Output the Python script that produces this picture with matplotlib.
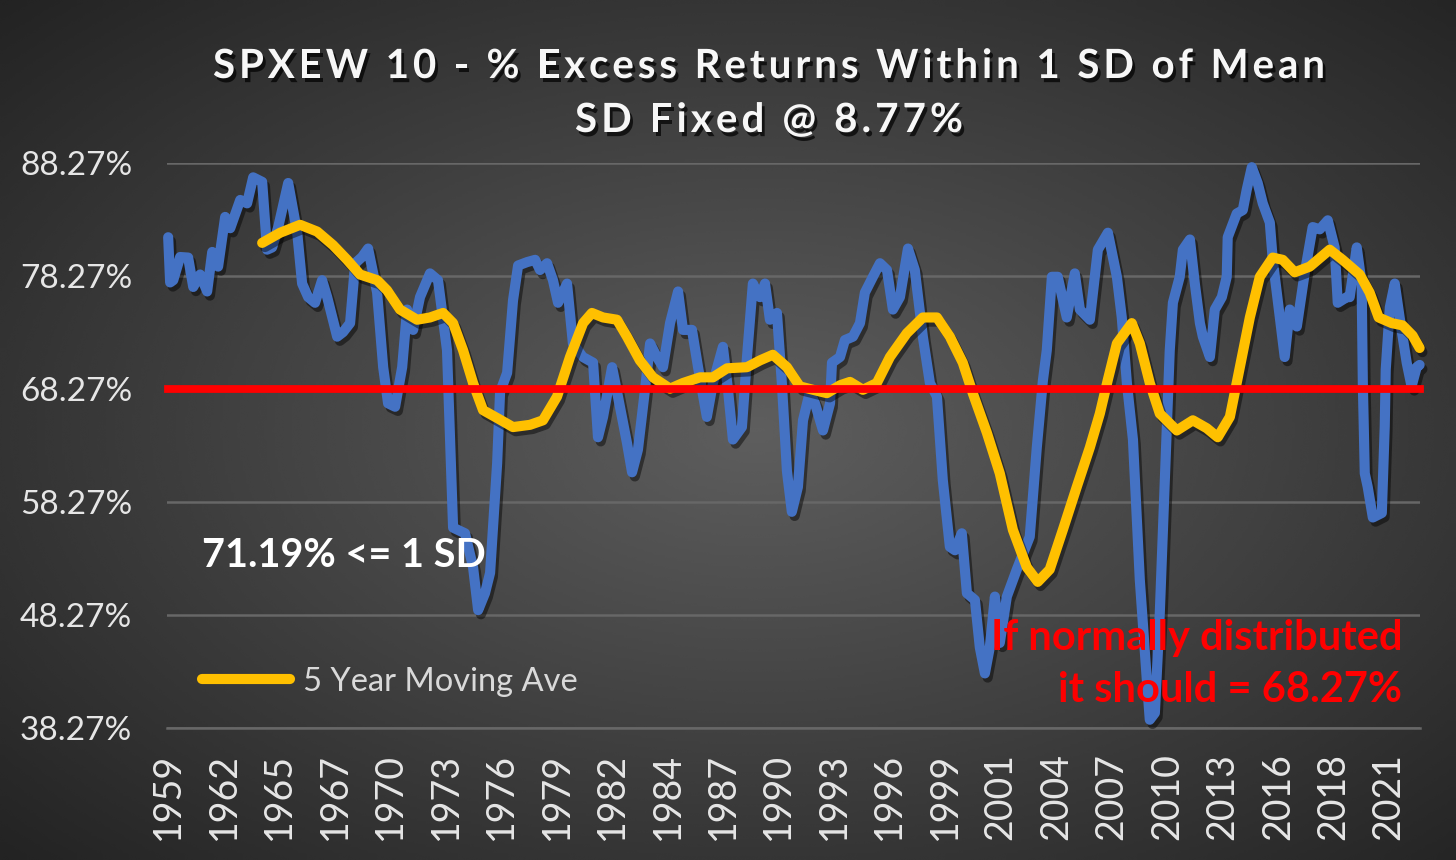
import numpy as np
import matplotlib
matplotlib.use("Agg")
import matplotlib.pyplot as plt
import matplotlib.patheffects as pe
from matplotlib.font_manager import FontProperties
from matplotlib.textpath import TextToPath

plt.rcParams['font.family'] = ['Lato', 'DejaVu Sans']

# 10yr excess returns - % within 1 SD
blue_years = [1959.42, 1959.52, 1959.68, 1960.03, 1960.44, 1960.70, 1961.05, 1961.41, 1961.67, 1961.97,
              1962.33, 1962.59, 1963.10, 1963.45, 1963.76, 1964.22, 1964.47, 1964.73, 1965.04, 1965.55,
              1966.01, 1966.26, 1966.57, 1966.92, 1967.28, 1967.54, 1968.05, 1968.35, 1968.71, 1968.97,
              1969.32, 1969.63, 1970.09, 1970.40, 1970.65, 1971.01, 1971.37, 1971.62, 1971.93, 1972.28,
              1972.79, 1973.20, 1973.66, 1973.97, 1974.58, 1974.99, 1975.25, 1975.60, 1975.86, 1976.22,
              1976.37, 1976.73, 1977.03, 1977.29, 1977.75, 1978.16, 1978.41, 1978.77, 1979.07, 1979.33,
              1979.79, 1980.09, 1980.60, 1981.12, 1981.37, 1981.63, 1982.09, 1982.39, 1982.85, 1983.11,
              1983.41, 1983.77, 1984.03, 1984.38, 1984.69, 1985.05, 1985.46, 1985.71, 1986.17, 1986.48,
              1986.93, 1987.24, 1987.75, 1988.01, 1988.26, 1988.72, 1988.98, 1989.28, 1989.64, 1989.90,
              1990.15, 1990.51, 1990.76, 1991.02, 1991.27, 1991.58, 1991.84, 1992.19, 1992.45, 1992.86,
              1993.22, 1993.32, 1993.73, 1993.98, 1994.39, 1994.75, 1995.00, 1995.41, 1995.77, 1996.13,
              1996.43, 1996.79, 1997.20, 1997.55, 1997.96, 1998.32, 1998.68, 1998.98, 1999.34, 1999.60,
              1999.95, 2000.21, 2000.62, 2000.87, 2001.13, 2001.38, 2001.64, 2001.89, 2002.25, 2002.76,
              2003.42, 2003.78, 2004.09, 2004.29, 2004.55, 2004.85, 2005.31, 2005.72, 2005.98, 2006.49,
              2006.90, 2007.41, 2007.87, 2008.12, 2008.38, 2008.69, 2009.04, 2009.40, 2009.55, 2009.81,
              2010.06, 2010.32, 2010.57, 2010.73, 2011.08, 2011.24, 2011.60, 2011.85, 2012.11, 2012.26,
              2012.62, 2012.87, 2013.23, 2013.48, 2013.53, 2013.99, 2014.30, 2014.50, 2014.76, 2015.06,
              2015.32, 2015.68, 2015.83, 2016.19, 2016.44, 2016.70, 2017.06, 2017.46, 2017.87, 2018.23,
              2018.64, 2018.99, 2019.15, 2019.61, 2019.76, 2020.12, 2020.37, 2020.43, 2020.53, 2020.68,
              2020.94, 2021.40, 2021.55, 2021.60, 2021.81, 2022.06, 2022.31, 2022.67, 2022.92, 2023.18,
              2023.33]
blue_vals = [81.7, 77.7, 77.9, 79.95, 79.9, 77.3, 78.4, 76.9, 80.4, 79.1,
             83.5, 82.5, 85.0, 84.7, 87.0, 86.6, 80.6, 80.8, 82.6, 86.5,
             82.1, 77.6, 76.4, 75.9, 77.9, 76.4, 72.9, 73.3, 74.1, 79.4,
             79.95, 80.7, 76.8, 70.2, 67.0, 66.7, 70.2, 75.3, 73.5, 76.4,
             78.5, 77.9, 71.7, 56.0, 55.5, 52.5, 48.7, 50.2, 52.0, 61.7,
             68.0, 69.7, 76.1, 79.2, 79.5, 79.7, 78.8, 79.4, 77.9, 75.9,
             77.6, 72.3, 71.1, 70.6, 64.0, 65.8, 70.2, 67.6, 63.5, 60.9,
             62.9, 68.2, 72.3, 71.1, 70.2, 74.1, 76.9, 73.5, 73.5, 70.2,
             65.8, 68.8, 72.0, 68.2, 63.8, 64.9, 71.1, 77.6, 76.4, 77.6,
             74.4, 75.0, 68.8, 61.0, 57.4, 59.6, 65.5, 68.0, 67.0, 64.6,
             67.0, 70.6, 71.1, 72.6, 72.9, 74.1, 76.8, 78.2, 79.4, 78.8,
             75.3, 76.4, 80.7, 78.8, 72.9, 68.8, 67.6, 60.2, 54.3, 54.0,
             55.5, 50.2, 49.6, 45.4, 43.1, 45.4, 49.9, 45.8, 49.9, 52.3,
             55.2, 63.1, 69.0, 71.7, 78.2, 78.2, 74.6, 78.5, 75.3, 74.4,
             80.6, 82.1, 78.2, 74.6, 68.8, 63.8, 51.4, 42.5, 39.0, 39.6,
             48.4, 60.2, 71.7, 75.9, 78.2, 80.6, 81.5, 77.6, 74.1, 72.9,
             71.1, 75.3, 76.4, 78.2, 81.7, 83.8, 84.1, 85.9, 87.9, 86.5,
             84.7, 83.0, 79.7, 74.6, 71.1, 75.3, 73.8, 78.5, 82.6, 82.4,
             83.2, 80.8, 75.9, 76.4, 76.4, 80.8, 77.6, 68.8, 60.8, 59.6,
             56.9, 57.3, 65.0, 70.0, 75.5, 77.6, 74.6, 70.6, 68.5, 70.2,
             70.4]

# 5 year moving average
ma_years = [1964.22, 1965.14, 1966.16, 1967.03, 1967.84, 1968.56, 1969.22, 1970.09, 1970.60, 1971.26,
            1972.13, 1972.79, 1973.46, 1973.97, 1974.48, 1974.99, 1975.50, 1976.22, 1977.03, 1977.90,
            1978.56, 1979.28, 1979.94, 1980.61, 1981.06, 1981.63, 1982.34, 1982.85, 1983.51, 1984.18,
            1985.05, 1985.71, 1986.58, 1987.24, 1987.96, 1988.98, 1989.64, 1990.30, 1991.02, 1991.68,
            1992.35, 1993.06, 1993.73, 1994.24, 1994.90, 1995.61, 1996.28, 1997.14, 1997.96, 1998.68,
            1999.34, 2000.00, 2000.51, 2001.23, 2001.89, 2002.56, 2003.27, 2003.83, 2004.44, 2005.11,
            2005.82, 2006.49, 2007.00, 2007.41, 2007.87, 2008.63, 2009.04, 2009.55, 2010.06, 2010.93,
            2011.75, 2012.46, 2013.02, 2013.64, 2014.15, 2014.66, 2015.17, 2015.83, 2016.34, 2016.95,
            2017.72, 2018.74, 2019.40, 2020.27, 2020.78, 2021.24, 2021.91, 2022.46, 2022.97, 2023.33]
ma_vals = [81.2, 82.1, 82.8, 82.2, 81.0, 79.7, 78.4, 77.9, 77.0, 75.3,
           74.4, 74.6, 75.0, 74.1, 71.7, 68.8, 66.4, 65.7, 64.9, 65.1,
           65.5, 67.6, 71.1, 74.1, 75.0, 74.6, 74.4, 72.9, 70.8, 69.3,
           68.3, 68.8, 69.3, 69.3, 70.1, 70.2, 70.8, 71.3, 70.2, 68.5,
           68.2, 67.9, 68.6, 68.9, 68.2, 68.8, 71.1, 73.2, 74.6, 74.6,
           72.9, 70.6, 67.9, 64.4, 60.8, 55.8, 52.5, 51.2, 52.3, 55.8,
           59.6, 63.1, 66.1, 69.1, 72.3, 74.1, 72.3, 68.8, 66.1, 64.6,
           65.5, 64.8, 64.0, 65.8, 70.2, 74.6, 78.2, 79.9, 79.7, 78.6,
           79.1, 80.6, 79.7, 78.4, 76.8, 74.6, 74.1, 73.9, 73.0, 71.9]

normal_pct = 68.27
y_ticks = [38.27, 48.27, 58.27, 68.27, 78.27, 88.27]
x_labels = ['1959', '1962', '1965', '1967', '1970', '1973', '1976', '1979', '1982', '1984', '1987', '1990',
            '1993', '1996', '1999', '2001', '2004', '2007', '2010', '2013', '2016', '2018', '2021']
tick_step = 34 / 12  # category labels every 34 months
x_ticks = [blue_years[0] + i * tick_step for i in range(len(x_labels))]

W, H = 1456, 860
fig = plt.figure(figsize=(W / 100, H / 100), dpi=100)

# radial gradient background
bg = fig.add_axes([0, 0, 1, 1], zorder=0)
yy, xx = np.mgrid[0:1:300j, 0:1:500j]
r = np.sqrt(((xx - 0.52) / 0.62) ** 2 + ((yy - 0.5) / 0.62) ** 2)
bg.imshow(np.clip(0.37 - 0.2 * r, 0, 1), cmap='gray', vmin=0, vmax=1, aspect='auto',
          extent=[0, 1, 0, 1], interpolation='bicubic')
bg.axis('off')

ax = fig.add_axes([167 / W, 1 - 728 / H, (1420 - 167) / W, (728 - 163) / H], zorder=1)
ax.set_facecolor('none')

shadow = [pe.SimpleLineShadow(offset=(2, -3), shadow_color='black', alpha=0.45), pe.Normal()]
ax.plot(blue_years, blue_vals, color='#4472C4', lw=7.3, solid_joinstyle='round',
        solid_capstyle='round', path_effects=shadow, clip_on=False, zorder=3)
ma_line, = ax.plot(ma_years, ma_vals, color='#FFC000', lw=7.3, solid_joinstyle='round',
                   solid_capstyle='round', path_effects=shadow, clip_on=False, zorder=4)
ax.plot([blue_years[0], blue_years[-1]], [normal_pct, normal_pct], color='#FF0000', lw=5.6,
        solid_capstyle='projecting', clip_on=False, zorder=5)

ax.set_xlim(blue_years[0] - 0.06, blue_years[-1] + 0.02)
ax.set_ylim(38.27, 88.27)
ax.set_yticks(y_ticks)
ax.set_yticklabels([f'{v:.2f}%' for v in y_ticks])
ax.set_xticks(x_ticks)
ax.set_xticklabels(x_labels, rotation=90)
ax.tick_params(axis='y', length=0, pad=25, labelsize=24, labelcolor='#e6e6e6')
ax.tick_params(axis='x', length=0, pad=18, labelsize=27, labelcolor='#e6e6e6')
ax.yaxis.grid(True, color='#676767', lw=1.8)
ax.set_axisbelow(True)
for s in ['top', 'left', 'right']:
    ax.spines[s].set_visible(False)
ax.spines['bottom'].set_color('#676767')
ax.spines['bottom'].set_linewidth(1.8)
ax.spines['bottom'].set_zorder(0.5)


# title with letter spacing
ttp = TextToPath()
title_fx = [pe.SimplePatchShadow(offset=(2, -3), shadow_rgbFace='black', alpha=0.7), pe.Normal()]


def spaced_text(s, cx, cy, size, target_w):
    fp = FontProperties(family='Lato', weight='bold', size=size)
    base = ttp.get_text_width_height_descent('||', fp, ismath=False)[0]
    widths = [(ttp.get_text_width_height_descent('|' + c + '|', fp, ismath=False)[0] - base) * 100 / 72
              for c in s]
    gap = (target_w - sum(widths)) / (len(s) - 1)
    x = cx - target_w / 2
    for c, w in zip(s, widths):
        fig.text(x / W, 1 - cy / H, c, fontproperties=fp, color='#f7f7f7', ha='left', va='baseline',
                 path_effects=title_fx)
        x += w + gap


spaced_text('SPXEW 10 - % Excess Returns Within 1 SD of Mean', 769, 78, 29, 1112)
spaced_text('SD Fixed @ 8.77%', 769, 132, 29, 388)

ax.text(0.028, 0.305, '71.19% <= 1 SD', transform=ax.transAxes, fontsize=28.5,
        fontweight='bold', color='white', va='center', ha='left')

leg = ax.legend([ma_line], ['5 Year Moving Ave'], loc='center left', bbox_to_anchor=(0.028, 0.082),
                frameon=False, fontsize=23.5, handlelength=2.7, handletextpad=0.4, borderpad=0,
                borderaxespad=0, labelcolor='#d9d9d9')
for h in leg.get_lines():
    h.set_path_effects([])
    h.set_linewidth(7.3)
    h.set_solid_capstyle('round')

ax.text(0.986, 0.113, 'If normally distributed\nit should = 68.27%', transform=ax.transAxes,
        fontsize=30, fontweight='bold', color='#FF0000', ha='right', va='center', linespacing=1.45,
        multialignment='right', zorder=6)

fig.savefig('out.png', dpi=100)
